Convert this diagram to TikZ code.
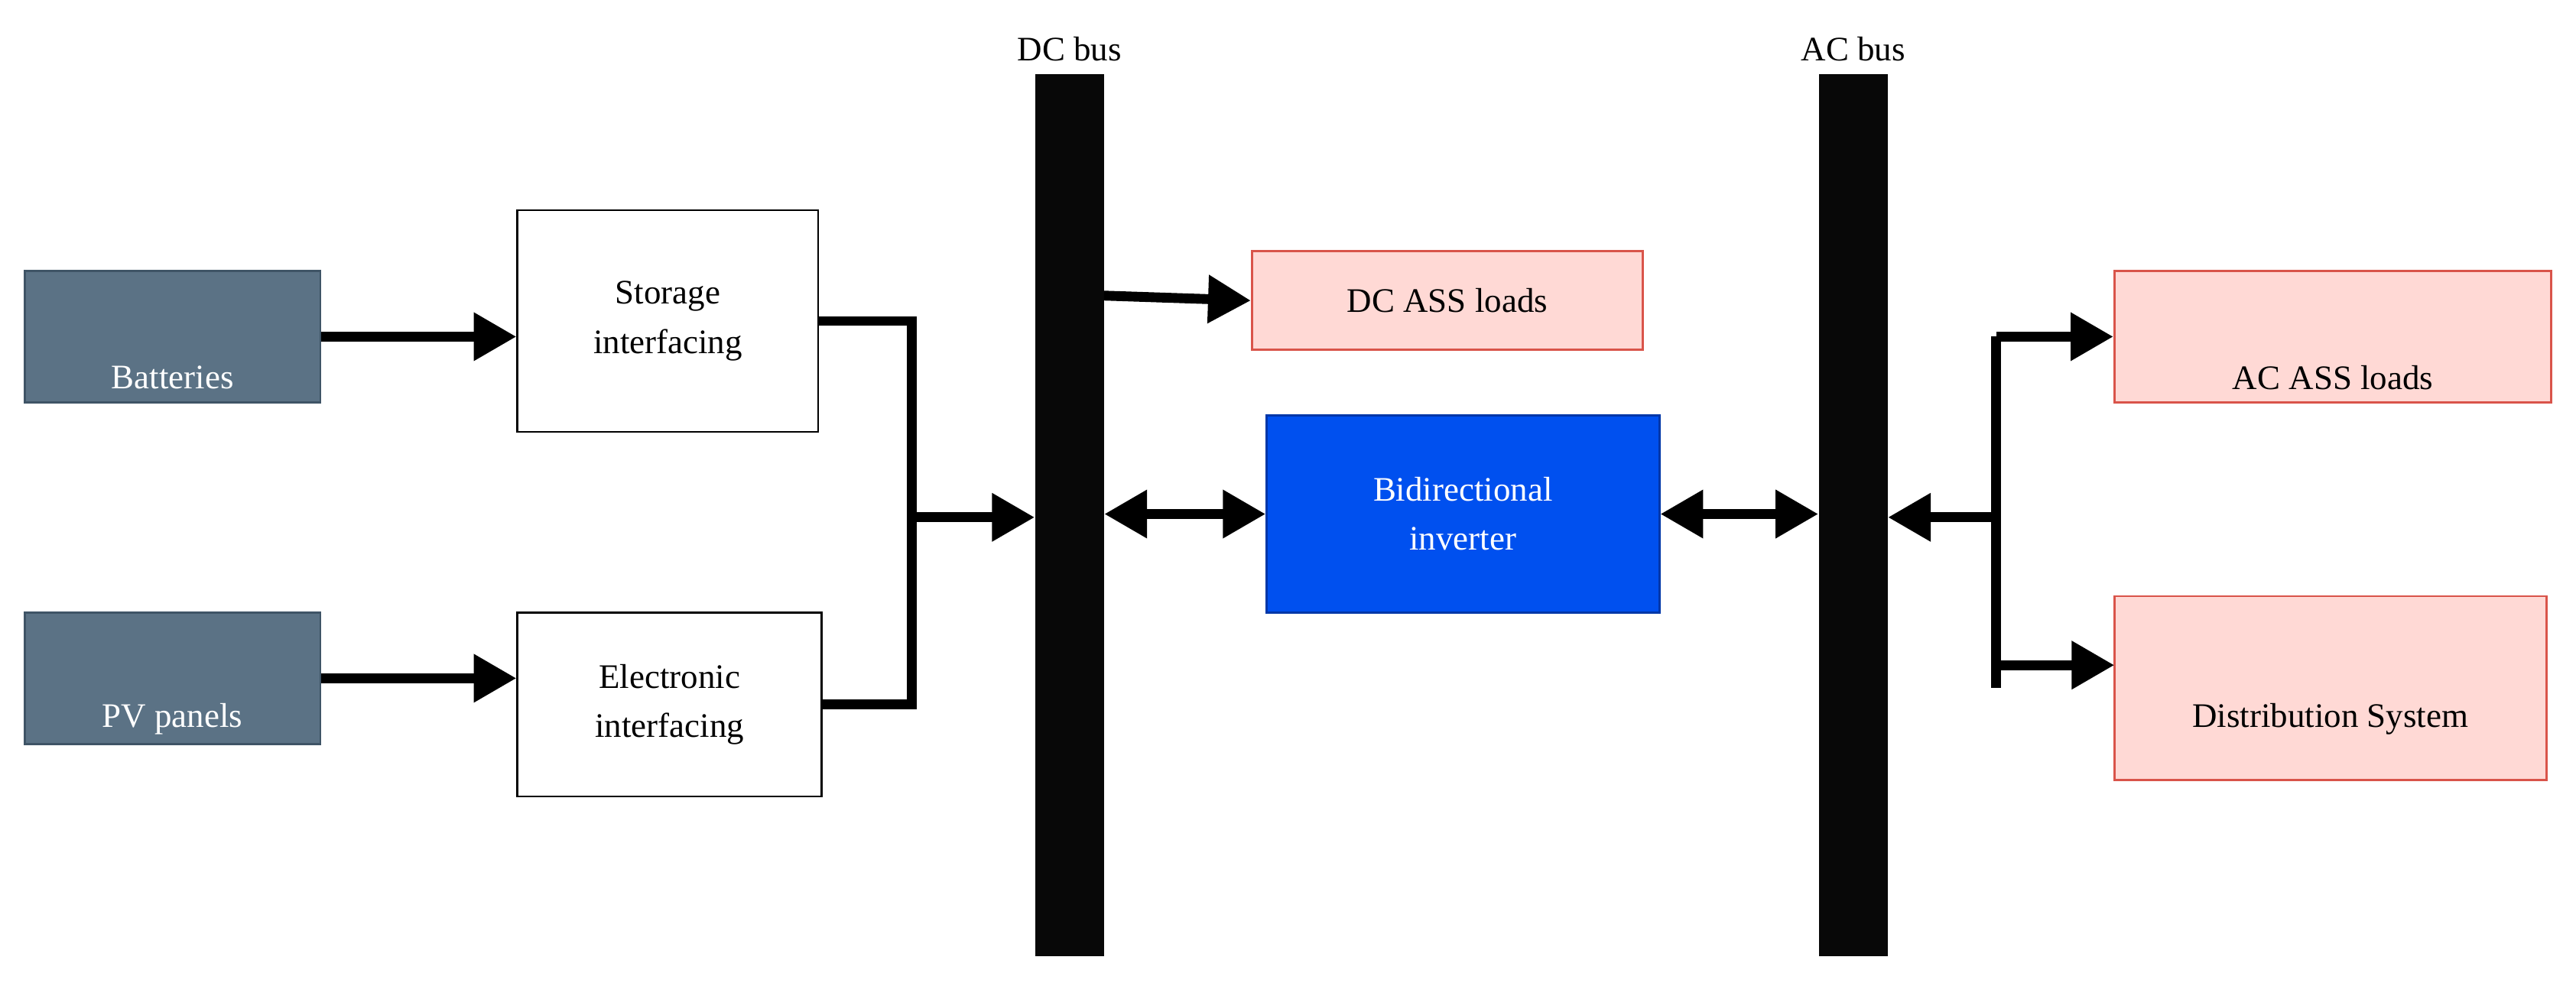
\documentclass[tikz,border=0pt]{standalone}
\usepackage{fontspec}
\setmainfont{Liberation Serif}
\usetikzlibrary{arrows.meta}
\definecolor{slate}{HTML}{5B7285}
\definecolor{slateb}{HTML}{3F5466}
\definecolor{pinkf}{HTML}{FFD9D5}
\definecolor{pinkb}{HTML}{D9544A}
\definecolor{blu}{HTML}{0050EF}
\definecolor{blub}{HTML}{0037A8}
\begin{document}
\begin{tikzpicture}[x=1bp,y=-1bp,
  every node/.style={font=\fontsize{21}{30}\selectfont, align=center, inner sep=0pt},
  box/.style={draw, line width=1.3bp},
  src/.style={box, fill=slate, draw=slateb, text=white},
  wbox/.style={box, fill=white, draw=black},
  load/.style={box, fill=pinkf, draw=pinkb},
  inv/.style={box, fill=blu, draw=blub, text=white},
  bus/.style={fill=black!97, draw=none},
  conn/.style={line width=6bp, -{Triangle[length=26bp,width=28bp]}},
  bi/.style={line width=6bp, {Triangle[length=26bp,width=28bp]}-{Triangle[length=26bp,width=28bp]}},
  line/.style={line width=6bp}]
\useasboundingbox (0,0) rectangle (1568,608);
\node[src, minimum width=180bp, minimum height=80bp, text depth=-18bp] (bat) at (105,205) {};
\node[text=white] at (105,230) {Batteries};
\node[src, minimum width=180bp, minimum height=80bp] (pv) at (105,413) {};
\node[text=white] at (105,438) {PV panels};
\node[wbox, minimum width=183bp, minimum height=135bp] (sto) at (406.5,195.5) {Storage\\interfacing};
\node[wbox, minimum width=185bp, minimum height=112bp] (ele) at (407.5,429) {Electronic\\interfacing};
\node[bus, minimum width=42bp, minimum height=537bp] (dc) at (651,313.5) {};
\node[bus, minimum width=42bp, minimum height=537bp] (ac) at (1128,313.5) {};
\node (dcl) at (651,30) {DC bus};
\node (acl) at (1128,30) {AC bus};
\node[load, minimum width=238bp, minimum height=60bp] (dcload) at (881,183) {DC ASS loads};
\node[inv, minimum width=239bp, minimum height=120bp] (inv) at (890.5,313) {Bidirectional\\inverter};
\node[load, minimum width=266bp, minimum height=80bp] (acload) at (1420,205) {};
\node at (1420,230) {AC ASS loads};
\node[load, minimum width=263bp, minimum height=112bp] (dist) at (1418.5,419) {};
\node at (1418.5,438) {Distribution System};
\coordinate (j) at (555,315);
\coordinate (k) at (1215,315);
\draw[conn] (bat.east) -- (bat.east -| sto.west);
\draw[conn] (pv.east) -- (pv.east -| ele.west);
\draw[line] (sto.east) -- (sto.east -| j) -- (ele.east -| j) -- (ele.east);
\draw[conn] (j) -- (j -| dc.west);
\draw[conn] (672,180) -- (dcload.west);
\draw[bi] (inv.west -| dc.east) -- (inv.west);
\draw[bi] (inv.east) -- (inv.east -| ac.west);
\draw[conn] (k) -- (k -| ac.east);
\draw[line] (acload.west -| k) -- (dist.west -| k);
\draw[conn] (acload.west -| k) -- (acload.west);
\draw[conn] (1215,405) -- (1287,405);
\end{tikzpicture}
\end{document}
